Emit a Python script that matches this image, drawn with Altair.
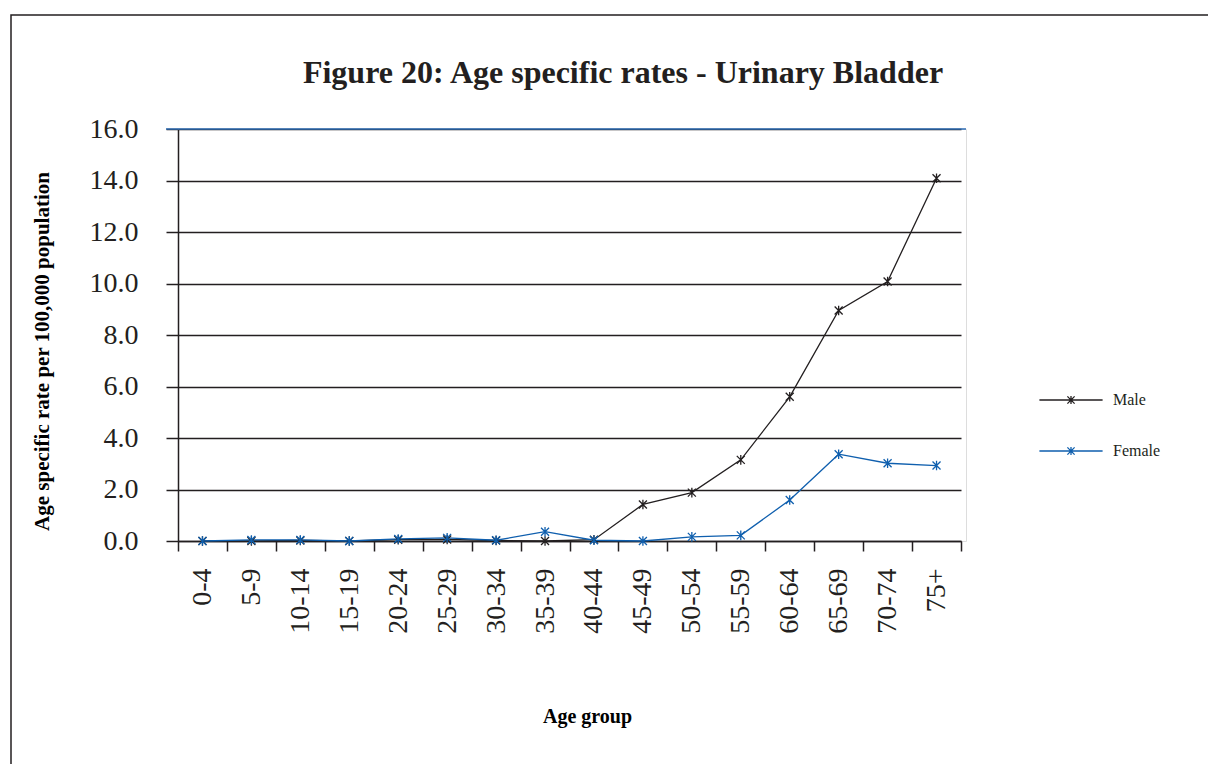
import altair as alt
import pandas as pd

age_groups = ["0-4", "5-9", "10-14", "15-19", "20-24", "25-29", "30-34", "35-39",
              "40-44", "45-49", "50-54", "55-59", "60-64", "65-69", "70-74", "75+"]
male = [0.0, 0.0, 0.02, 0.0, 0.05, 0.06, 0.02, 0.0, 0.05, 1.42, 1.88, 3.15, 5.6, 8.95, 10.08, 14.09]
female = [0.0, 0.04, 0.04, 0.0, 0.08, 0.12, 0.03, 0.36, 0.03, 0.0, 0.16, 0.22, 1.59, 3.37, 3.02, 2.93]
series = ["Male", "Female"]
colors = ["#231f20", "#0f5fae"]
y_ticks = [0, 2, 4, 6, 8, 10, 12, 14, 16]
y_max = [16]

title_text = "Figure 20: Age specific rates - Urinary Bladder"
y_title = "Age specific rate per 100,000 population"
x_title = "Age group"

FONT = "Liberation Serif"
ASTERISK = "M-1,-1L1,1M-1,1L1,-1M0,-1.2L0,1.2"
LEGEND_SYMBOL = "M-7.9,0L7.9,0M-0.9,-0.9L0.9,0.9M-0.9,0.9L0.9,-0.9M0,-1L0,1"

df = pd.DataFrame({
    "Age group": age_groups * 2,
    "Sex": ["Male"] * len(male) + ["Female"] * len(female),
    "Rate": male + female,
})

W, H = 788, 412

x_enc = alt.X(
    "Age group:N", sort=age_groups,
    scale=alt.Scale(type="band", paddingInner=0, paddingOuter=0, range=[0, 783]),
    axis=alt.Axis(
        title=x_title, titleFont=FONT, titleFontSize=20, titleFontWeight="bold",
        titleColor="black", titleX=409, titleY=175, titleAlign="center", titleBaseline="middle",
        labelFont=FONT, labelFontSize=28, labelColor="#231f20", labelAngle=270,
        labelAlign="right", labelBaseline="middle", labelPadding=17,
        tickBand="extent", tickSize=10, tickColor="#231f20", tickWidth=1.5,
        domainColor="#231f20", domainWidth=1.5, grid=False,
    ),
)

y_scale = alt.Scale(domain=[0, 16], nice=False)
y_enc = alt.Y(
    "Rate:Q", scale=y_scale,
    axis=alt.Axis(
        title=y_title, titleFont=FONT, titleFontSize=21, titleFontWeight="bold",
        titleColor="black", titleX=-136, titleY=222, titleAngle=270,
        titleAlign="center", titleBaseline="middle",
        values=y_ticks, format=".1f", labelFont=FONT, labelFontSize=28,
        labelColor="#231f20", labelPadding=28,
        tickSize=12, tickColor="#231f20", tickWidth=1.5,
        domainColor="#231f20", domainWidth=1.5,
        grid=True, gridColor="#231f20", gridWidth=1.5,
    ),
)

legend = alt.Legend(
    title=None, orient="none", legendX=885, legendY=263,
    symbolType=LEGEND_SYMBOL, symbolSize=64, symbolStrokeWidth=1.3,
    labelFont=FONT, labelFontSize=16, labelColor="#231f20",
    labelOffset=34, rowPadding=35, padding=0,
)
color_enc = alt.Color("Sex:N", scale=alt.Scale(domain=series, range=colors),
                      sort=series, legend=legend)

base = alt.Chart(df)
lines = base.mark_line(strokeWidth=1.3).encode(x=x_enc, y=y_enc, color=color_enc)
points = base.mark_point(shape=ASTERISK, size=64, filled=False, strokeWidth=1.3,
                         opacity=1).encode(x=x_enc, y=y_enc, color=color_enc)

top_rule = alt.Chart(pd.DataFrame({"Rate": y_max})).mark_rule(
    color="#2e6db4", strokeWidth=1.5
).encode(y=alt.Y("Rate:Q", scale=y_scale), x=alt.value(-12), x2=alt.value(W))

frame = alt.Chart(alt.Data(values=[{"k": 1}])).mark_rect(
    fillOpacity=0, stroke="#231f20", strokeWidth=1.5, clip=False
).encode(x=alt.value(-167), x2=alt.value(1400), y=alt.value(-114), y2=alt.value(900))

chart = alt.layer(frame, top_rule, lines, points).properties(
    width=W, height=H,
    title=alt.TitleParams(
        title_text, font=FONT, fontSize=32, fontWeight="bold", color="#231f20",
        anchor="middle", frame="group", dx=51, offset=0, dy=101, baseline="alphabetic",
    ),
    autosize=alt.AutoSizeParams(type="none"),
    padding={"left": 170, "top": 121, "right": 242, "bottom": 223},
).configure_view(strokeWidth=0).configure(background="white")

chart.save("out.html", embed_options={"renderer": "svg", "actions": False})
